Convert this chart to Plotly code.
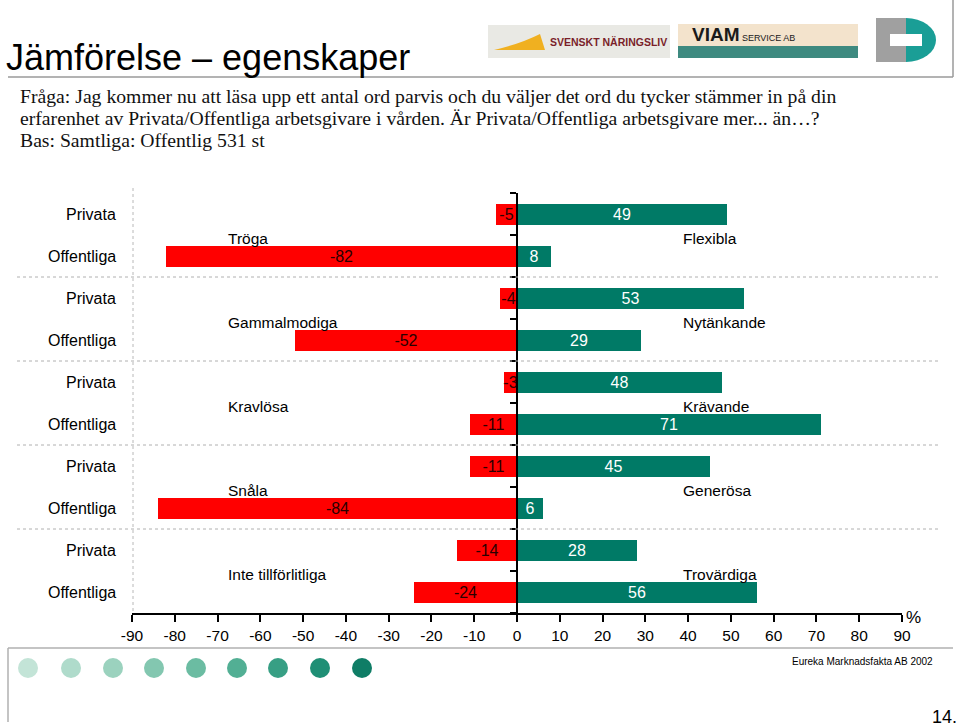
import plotly.graph_objects as go

# ---------------- data ----------------
left_words = ["Tröga", "Gammalmodiga", "Kravlösa", "Snåla", "Inte tillförlitliga"]
right_words = ["Flexibla", "Nytänkande", "Krävande", "Generösa", "Trovärdiga"]
sectors = ["Privata", "Offentliga"]
neg_privata = [-5, -4, -3, -11, -14]
neg_offentliga = [-82, -52, -11, -84, -24]
pos_privata = [49, 53, 48, 45, 28]
pos_offentliga = [8, 29, 71, 6, 56]
x_ticks = list(range(-90, 91, 10))
x_ticklabels = [str(v) for v in x_ticks]

# ---------------- layout geometry (pixels) ----------------
FW, FH = 960, 727
L, R, T, B = 132, 902, 193, 613
W, H = R - L, B - T


def px(x):
    return (x - L) / W


def py(y):
    return (B - y) / H


SANS = "Liberation Sans, Arial, sans-serif"
SERIF = "Liberation Serif, Times New Roman, serif"
RED = "#ff0000"
TEAL = "#007a66"

rows, neg_vals, pos_vals, row_labels = [], [], [], []
for g in range(len(left_words)):
    for s, (nv, pv) in enumerate([(neg_privata[g], pos_privata[g]), (neg_offentliga[g], pos_offentliga[g])]):
        rows.append(2 * g + s)
        neg_vals.append(nv)
        pos_vals.append(pv)
        row_labels.append(sectors[s])

fig = go.Figure()
fig.add_trace(go.Bar(
    y=rows, x=neg_vals, orientation="h", width=0.5,
    marker=dict(color=RED, line=dict(width=0)),
    text=[str(v) for v in neg_vals], textposition="inside", insidetextanchor="middle", textangle=0,
    textfont=dict(family=SANS, size=16, color="#2a0000"), cliponaxis=False,
    showlegend=False, hoverinfo="x",
))
fig.add_trace(go.Bar(
    y=rows, x=pos_vals, orientation="h", width=0.5,
    marker=dict(color=TEAL, line=dict(width=0)),
    text=[str(v) for v in pos_vals], textposition="inside", insidetextanchor="middle", textangle=0,
    textfont=dict(family=SANS, size=16, color="white"), cliponaxis=False,
    showlegend=False, hoverinfo="x",
))

shapes = []
# group separators (dotted)
for b in [1.5, 3.5, 5.5, 7.5]:
    shapes.append(dict(type="line", xref="paper", yref="y", x0=px(17), x1=px(938), y0=b, y1=b,
                       line=dict(color="#b0b0b0", width=1, dash="dot")))
# left dotted border of plot
shapes.append(dict(type="line", xref="paper", yref="paper", x0=px(133), x1=px(133), y0=py(188), y1=py(613),
                   line=dict(color="#b8b8b8", width=1, dash="dot")))
# header frame
shapes.append(dict(type="line", xref="paper", yref="paper", x0=px(8), x1=px(953), y0=py(77), y1=py(77),
                   line=dict(color="#9a9a9a", width=1.5)))
shapes.append(dict(type="line", xref="paper", yref="paper", x0=px(953), x1=px(953), y0=py(0), y1=py(77),
                   line=dict(color="#9a9a9a", width=1.5)))
# footer frame
shapes.append(dict(type="line", xref="paper", yref="paper", x0=px(8), x1=px(953), y0=py(648), y1=py(648),
                   line=dict(color="#b0b0b0", width=1.5)))
shapes.append(dict(type="line", xref="paper", yref="paper", x0=px(8), x1=px(8), y0=py(648), y1=py(722),
                   line=dict(color="#b0b0b0", width=1.5)))
# footer circles
circle_x = [28, 71, 113, 154, 196, 237, 278, 320, 362]
circle_colors = ["#c3e4d7", "#afdbcb", "#9bd2be", "#83c7b0", "#6bbca2", "#52af94", "#379f84", "#1f8f75", "#0f7d66"]
for cx, cc in zip(circle_x, circle_colors):
    shapes.append(dict(type="circle", xref="paper", yref="paper", x0=px(cx - 10), x1=px(cx + 10),
                       y0=py(678), y1=py(658), fillcolor=cc, line=dict(width=0)))
# logo placeholders
shapes.append(dict(type="rect", xref="paper", yref="paper", x0=px(488), x1=px(670), y0=py(58), y1=py(25),
                   fillcolor="#e9e9e4", line=dict(width=0)))
shapes.append(dict(type="path", xref="paper", yref="paper",
                   path=f"M {px(494)},{py(50)} Q {px(520)},{py(44)} {px(540)},{py(34)} L {px(545)},{py(50)} Z",
                   fillcolor="#f0b020", line=dict(width=0)))
shapes.append(dict(type="rect", xref="paper", yref="paper", x0=px(678), x1=px(858), y0=py(58), y1=py(24),
                   fillcolor="#f3e3cc", line=dict(width=0)))
shapes.append(dict(type="rect", xref="paper", yref="paper", x0=px(678), x1=px(858), y0=py(58), y1=py(46),
                   fillcolor="#3e8a80", line=dict(width=0)))
shapes.append(dict(type="circle", xref="paper", yref="paper", x0=px(876), x1=px(936), y0=py(62), y1=py(18),
                   fillcolor="#1a9e96", line=dict(width=0)))
shapes.append(dict(type="rect", xref="paper", yref="paper", x0=px(876), x1=px(906), y0=py(62), y1=py(18),
                   fillcolor="#a0a0a0", line=dict(width=0)))
shapes.append(dict(type="rect", xref="paper", yref="paper", x0=px(890), x1=px(922), y0=py(46), y1=py(34),
                   fillcolor="white", line=dict(width=0)))

ann = []
# title
ann.append(dict(text="Jämförelse – egenskaper", xref="paper", yref="paper", x=px(4), y=py(57),
                xanchor="left", yanchor="middle", showarrow=False,
                font=dict(family=SANS, size=36, color="black")))
question = ["Fråga: Jag kommer nu att läsa upp ett antal ord parvis och du väljer det ord du tycker stämmer in på din",
            "erfarenhet av Privata/Offentliga arbetsgivare i vården. Är Privata/Offentliga arbetsgivare mer... än…?",
            "Bas: Samtliga: Offentlig 531 st"]
for i, line in enumerate(question):
    ann.append(dict(text=line, xref="paper", yref="paper", x=px(18), y=py(96 + 22 * i),
                    xanchor="left", yanchor="middle", showarrow=False,
                    font=dict(family=SERIF, size=19.7, color="#111111")))
# row labels
for r, lab in zip(rows, row_labels):
    ann.append(dict(text=lab, xref="paper", yref="y", x=px(118), y=r, xanchor="right", yanchor="middle",
                    showarrow=False, font=dict(family=SANS, size=16, color="black")))
# word labels
for g in range(len(left_words)):
    ann.append(dict(text=left_words[g], xref="paper", yref="y", x=px(226), y=2 * g + 0.5, yshift=-3,
                    xanchor="left", yanchor="middle", showarrow=False,
                    font=dict(family=SANS, size=15.5, color="black")))
    ann.append(dict(text=right_words[g], xref="paper", yref="y", x=px(681), y=2 * g + 0.5, yshift=-3,
                    xanchor="left", yanchor="middle", showarrow=False,
                    font=dict(family=SANS, size=15.5, color="black")))
# misc text
ann.append(dict(text="%", xref="paper", yref="paper", x=px(913), y=py(617), xanchor="center", yanchor="middle",
                showarrow=False, font=dict(family=SANS, size=17, color="black")))
ann.append(dict(text="Eureka Marknadsfakta AB 2002", xref="paper", yref="paper", x=px(935), y=py(661),
                xanchor="right", yanchor="middle", showarrow=False, font=dict(family=SANS, size=10, color="black")))
ann.append(dict(text="14.", xref="paper", yref="paper", x=px(959), y=py(717), xanchor="right", yanchor="middle",
                showarrow=False, font=dict(family=SANS, size=18, color="black")))
ann.append(dict(text="<b>SVENSKT NÄRINGSLIV</b>", xref="paper", yref="paper", x=px(548), y=py(42),
                xanchor="left", yanchor="middle", showarrow=False, font=dict(family=SANS, size=10.5, color="#7a1f2a")))
ann.append(dict(text="<b>VIAM</b><span style='font-size:9px'> SERVICE AB</span>", xref="paper", yref="paper",
                x=px(690), y=py(34), xanchor="left", yanchor="middle", showarrow=False,
                font=dict(family=SANS, size=19, color="#1a1a1a")))

fig.update_layout(
    width=FW, height=FH, autosize=False,
    margin=dict(l=L, r=FW - R, t=T, b=FH - B, pad=0),
    paper_bgcolor="white", plot_bgcolor="white",
    barmode="relative", bargap=0,
    uniformtext=dict(minsize=16, mode="show"),
    shapes=shapes, annotations=ann,
    xaxis=dict(range=[-90, 90], tickvals=x_ticks, ticktext=x_ticklabels, ticks="outside", ticklen=7,
               tickwidth=2, tickcolor="black", showline=True, linecolor="black", linewidth=2,
               showgrid=False, zeroline=False, tickfont=dict(family=SANS, size=15.5, color="black"),
               fixedrange=True),
    yaxis=dict(range=[9.5, -0.5], tickvals=[i - 0.5 for i in range(11)], showticklabels=False,
               ticks="outside", ticklen=6, tickwidth=2, tickcolor="black", showline=True,
               linecolor="black", linewidth=2, showgrid=False, zeroline=False,
               anchor="free", position=0.5, fixedrange=True),
)

fig.write_html("out.html", config={"displayModeBar": False},
               post_script="document.body.style.margin='0';")
